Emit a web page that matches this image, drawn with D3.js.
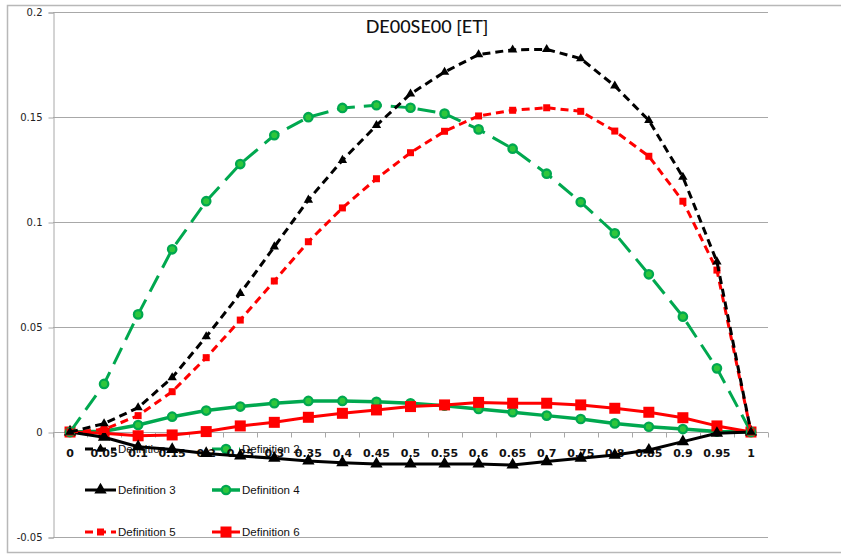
<!DOCTYPE html>
<html><head><meta charset="utf-8">
<script src="https://cdn.jsdelivr.net/npm/d3@7"></script>
<style>body{margin:0;background:#fff}svg{display:block}</style>
</head><body>
<svg id="chart" width="841" height="554"></svg>
<script>
const categories = ["0","0.05","0.1","0.15","0.2","0.25","0.3","0.35","0.4","0.45","0.5","0.55","0.6","0.65","0.7","0.75","0.8","0.85","0.9","0.95","1"];
const yTicks = [-0.05, 0, 0.05, 0.1, 0.15, 0.2];
const yTickLabels = ["-0.05","0","0.05","0.1","0.15","0.2"];
const title = "DE00SE00 [ET]";
const seriesNames = ["Definition 1","Definition 2","Definition 3","Definition 4","Definition 5","Definition 6"];
const def1 = [0,0.004,0.0116,0.0259,0.0454,0.066,0.0882,0.1105,0.1294,0.146,0.161,0.1714,0.1797,0.182,0.1822,0.1778,0.1648,0.1484,0.1214,0.0811,0];
const def2 = [0,0.0229,0.056,0.087,0.1099,0.1276,0.1413,0.1499,0.1543,0.1556,0.1544,0.1516,0.1441,0.1349,0.123,0.1095,0.0946,0.0751,0.0549,0.0303,0];
const def3 = [0,-0.0025,-0.007,-0.0083,-0.0102,-0.0114,-0.0125,-0.0138,-0.0146,-0.0152,-0.0152,-0.0152,-0.0152,-0.0157,-0.0141,-0.0125,-0.011,-0.0086,-0.0046,-0.0006,0];
const def4 = [0,0.0004,0.0033,0.0073,0.0102,0.0121,0.0137,0.0148,0.0148,0.0144,0.0137,0.0125,0.011,0.0094,0.0078,0.0062,0.0041,0.0025,0.0014,0.0002,0];
const def5 = [0,0.0012,0.0078,0.0192,0.0354,0.0533,0.0719,0.0906,0.1067,0.1206,0.133,0.1432,0.1505,0.1532,0.1544,0.1527,0.1433,0.1313,0.1099,0.0771,0];
const def6 = [0,-0.0006,-0.0018,-0.0014,0.0002,0.0029,0.0046,0.007,0.0089,0.0105,0.0121,0.0129,0.0141,0.0137,0.0137,0.0129,0.0113,0.0094,0.0068,0.0029,0];

const GREEN = "#00a84f", GREEN_FILL = "#2fc63c", RED = "#ff0000", BLACK = "#000000";
const styles = [
  {values:def1, color:BLACK, dash:"8,5", width:3, marker:"triangle", size:38, fill:BLACK},
  {values:def2, color:GREEN, dash:"18,9", width:3, marker:"circle", size:4.2, fill:GREEN_FILL},
  {values:def3, color:BLACK, dash:null, width:3, marker:"triangle", size:66, fill:BLACK},
  {values:def4, color:GREEN, dash:null, width:3.5, marker:"circle", size:4.2, fill:GREEN_FILL},
  {values:def5, color:RED, dash:"8,5", width:3, marker:"square", size:7, fill:RED},
  {values:def6, color:RED, dash:null, width:3, marker:"square", size:11, fill:RED}
];

const svg = d3.select("#chart");
const L = 53, R = 768, T = 12, B = 537;
const x = d3.scalePoint().domain(categories).range([L, R]).padding(0.5);
const y = d3.scaleLinear().domain([-0.05, 0.2]).range([B, T]);

// outer frame
svg.append("rect").attr("x",7.5).attr("y",5.5).attr("width",840).attr("height",547)
  .attr("fill","none").attr("stroke","#b8b8b8").attr("stroke-width",1.5);

// gridlines
svg.append("g").selectAll("line").data(yTicks).join("line")
  .attr("x1",L).attr("x2",R).attr("y1",d=>Math.round(y(d))+0.5).attr("y2",d=>Math.round(y(d))+0.5)
  .attr("stroke","#a8a8a8").attr("stroke-width",1);

// y axis
const yAxis = d3.axisLeft(y).tickValues(yTicks).tickFormat((d,i)=>yTickLabels[i]).tickSize(5).tickPadding(6);
const gy = svg.append("g").attr("transform",`translate(${L+0.5},0.5)`).call(yAxis);
gy.selectAll("path,line").attr("stroke","#a8a8a8");
gy.selectAll("text").attr("font-family","DejaVu Sans, sans-serif").attr("font-size",10).attr("fill","#222");

// x axis at y=0
const y0 = Math.round(y(0))+0.5;
svg.append("line").attr("x1",L).attr("x2",R).attr("y1",y0).attr("y2",y0).attr("stroke","#a8a8a8");
const step = x.step();
svg.append("g").selectAll("line").data(d3.range(categories.length+1)).join("line")
  .attr("x1",i=>Math.round(L+i*step)+0.5).attr("x2",i=>Math.round(L+i*step)+0.5)
  .attr("y1",y0).attr("y2",y0+5).attr("stroke","#a8a8a8");

// legend (drawn beneath series, as in the reference)
const legendPos = [[85,449],[212,449],[85,490],[212,490],[85,532],[212,532]];
function drawMarker(g, s, cx, cy) {
  if (s.marker === "triangle") {
    g.append("path").attr("d", d3.symbol(d3.symbolTriangle, s.size)()).attr("transform",`translate(${cx},${cy})`).attr("fill",s.fill);
  } else if (s.marker === "circle") {
    g.append("circle").attr("cx",cx).attr("cy",cy).attr("r",s.size).attr("fill",s.fill).attr("stroke",s.color).attr("stroke-width",2.3);
  } else {
    g.append("rect").attr("x",cx-s.size/2).attr("y",cy-s.size/2).attr("width",s.size).attr("height",s.size).attr("fill",s.fill);
  }
}
const leg = svg.append("g");
styles.forEach((s,i)=>{
  const [lx,ly] = legendPos[i];
  const w = i%2===0 ? 31 : 28;
  leg.append("line").attr("x1",lx).attr("x2",lx+w).attr("y1",ly).attr("y2",ly)
    .attr("stroke",s.color).attr("stroke-width",s.width).attr("stroke-dasharray",s.dash);
  drawMarker(leg, s, lx+w/2, ly);
  leg.append("text").attr("x",lx+w+2).attr("y",ly+4).text(seriesNames[i])
    .attr("font-family","Liberation Sans, Arial, sans-serif").attr("font-size",11.5).attr("fill","#111");
});

// x tick labels
svg.append("g").selectAll("text").data(categories).join("text")
  .attr("x",d=>x(d)).attr("y",y0+24).attr("text-anchor","middle").text(d=>d)
  .attr("font-family","DejaVu Sans, sans-serif").attr("font-size",11).attr("font-weight","bold").attr("fill","#111");

// series
const line = d3.line().x((d,i)=>x(categories[i])).y(d=>y(d));
const order = [3,5,2,1,4,0];
order.forEach(k=>{
  const s = styles[k];
  const g = svg.append("g");
  g.append("path").attr("d",line(s.values)).attr("fill","none").attr("stroke",s.color)
    .attr("stroke-width",s.width).attr("stroke-dasharray",s.dash).attr("stroke-linejoin","round");
  s.values.forEach((v,i)=>drawMarker(g, s, x(categories[i]), y(v)));
});

// title
svg.append("text").attr("x",427).attr("y",33).attr("text-anchor","middle").text(title)
  .attr("font-family","Lato, Open Sans, sans-serif").attr("font-size",18).attr("font-weight",500).attr("fill","#111");
</script>
</body></html>
